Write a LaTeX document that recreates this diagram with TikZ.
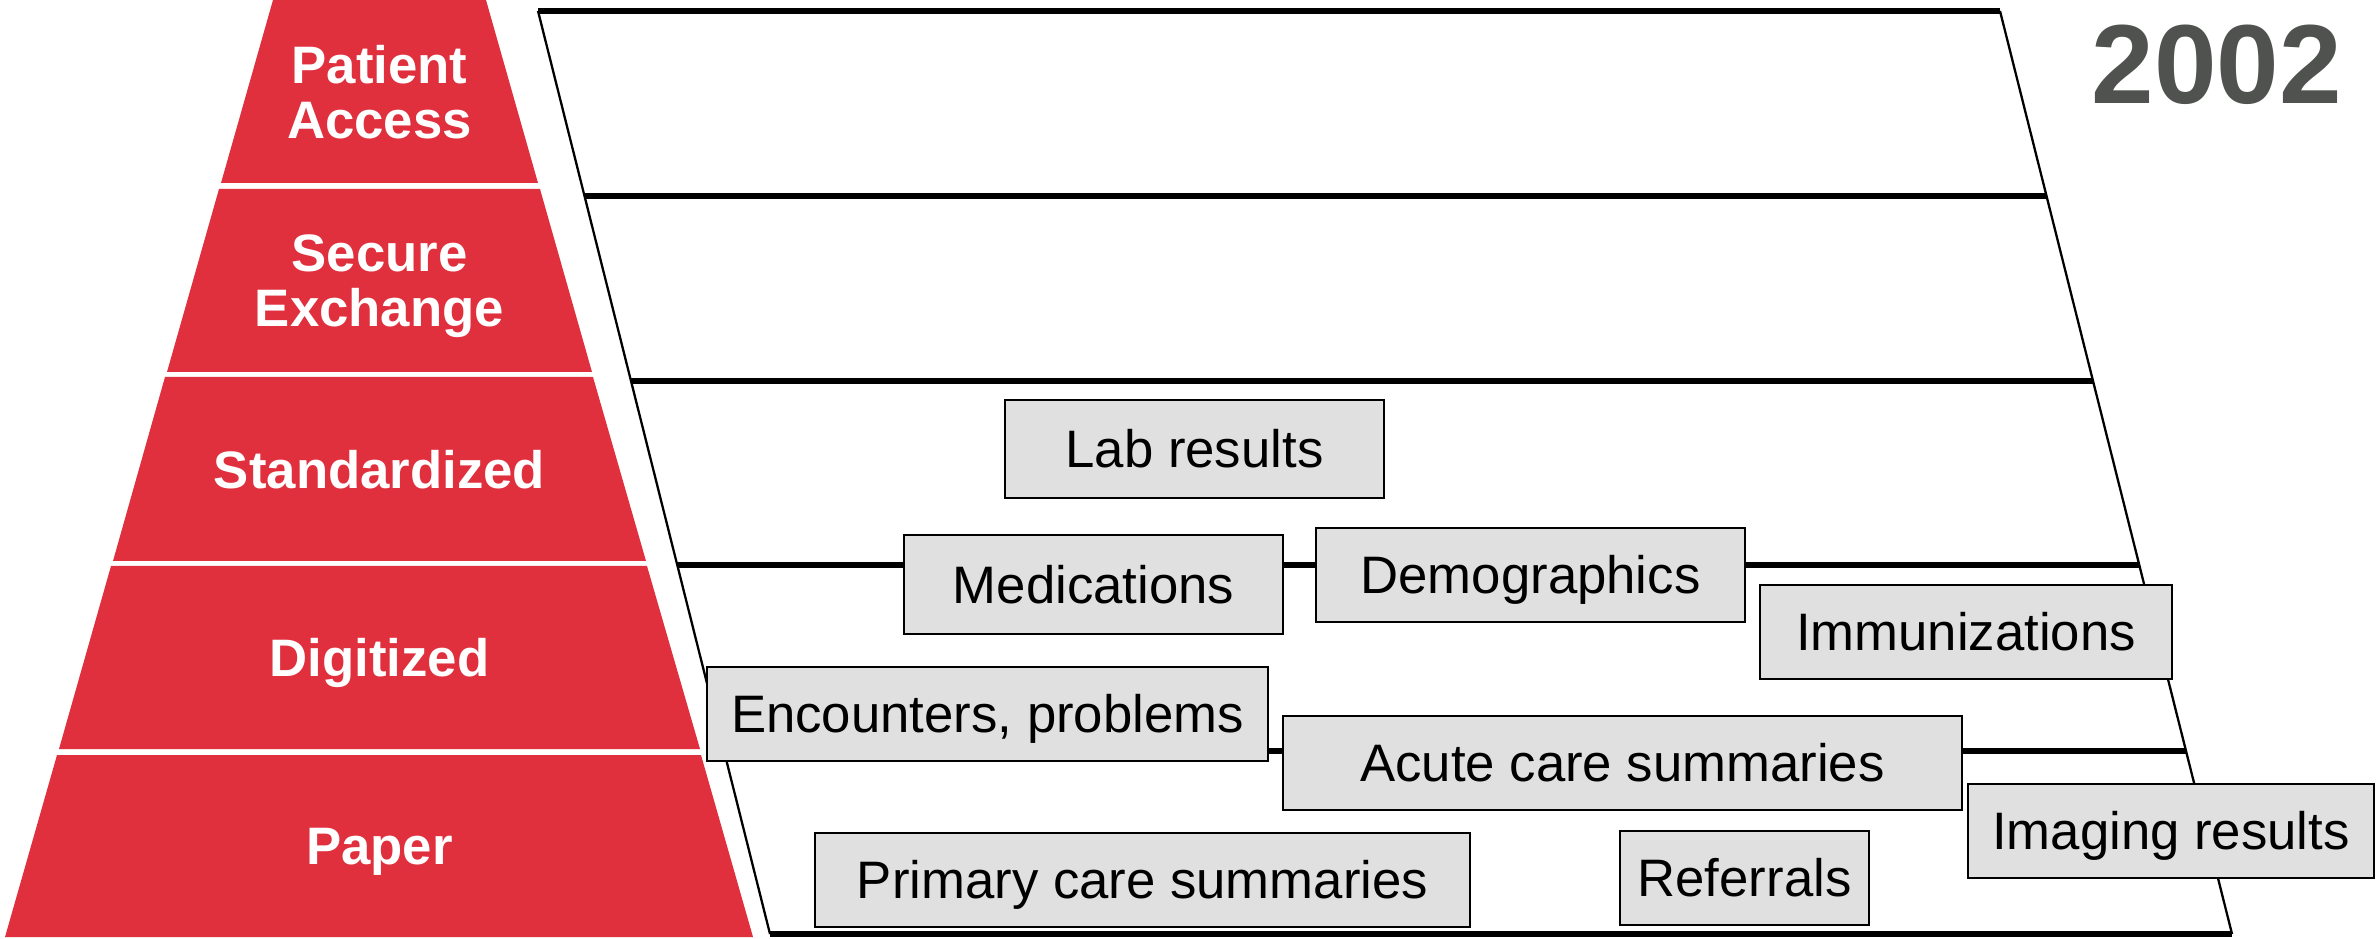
\documentclass[tikz,border=0pt]{standalone}
\usepackage{fontspec}
\setmainfont{Liberation Sans}
\usepackage{tikz}
\definecolor{pyrred}{RGB}{224,47,61}
\definecolor{boxgray}{RGB}{224,224,224}
\definecolor{yeargray}{RGB}{80,82,80}

\begin{document}
\begin{tikzpicture}[
  level/.style={text=white, font=\fontsize{15}{15.6}\selectfont\bfseries, align=center, inner sep=0pt, text depth=0pt},
  item/.style={draw, fill=boxgray, line width=0.8pt, inner sep=0pt, minimum height=0.94cm, text height=10.8pt, text depth=0pt, font=\fontsize{15}{18}\selectfont},
  band/.style={line width=1.5pt},
  side/.style={line width=0.65pt}
]
\useasboundingbox (0,0) rectangle (23.76,9.38);

% Pyramid of levels
\fill[pyrred] (2.73,9.38) -- (4.86,9.38) -- (5.38,7.55) -- (2.21,7.55) -- cycle;
\fill[pyrred] (2.19,7.49) -- (5.40,7.49) -- (5.92,5.66) -- (1.67,5.66) -- cycle;
\fill[pyrred] (1.65,5.61) -- (5.93,5.61) -- (6.46,3.77) -- (1.13,3.77) -- cycle;
\fill[pyrred] (1.11,3.72) -- (6.47,3.72) -- (7.00,1.89) -- (0.59,1.89) -- cycle;
\fill[pyrred] (0.57,1.83) -- (7.01,1.83) -- (7.53,0.01) -- (0.05,0.01) -- cycle;

\node[level] (access) at (3.795,8.465) {Patient\\Access};
\node[level] (exchange) at (3.795,6.575) {Secure\\Exchange};
\node[level] (standard) at (3.795,4.69) {Standardized};
\node[level] (digital) at (3.795,2.805) {Digitized};
\node[level] (paper) at (3.795,0.92) {Paper};

% Frame of the year
\draw[side] (5.38,9.27) -- (7.70,0.04);
\draw[side] (20.00,9.27) -- (22.32,0.04);
\draw[band] (5.38,9.27) -- (20.00,9.27);
\draw[band] (5.845,7.42) -- (20.465,7.42);
\draw[band] (6.309,5.57) -- (20.929,5.57);
\draw[band] (6.771,3.73) -- (21.391,3.73);
\draw[band] (7.238,1.87) -- (21.858,1.87);
\draw[band] (7.70,0.04) -- (22.32,0.04);

\node[font=\fontsize{32}{32}\selectfont\bfseries, text=yeargray, inner sep=0pt, text depth=0pt] (year) at (22.17,8.735) {2002};

% Record types
\node[item, minimum width=3.79cm, minimum height=0.98cm] (lab) at (11.945,4.89) {Lab results};
\node[item, minimum width=3.79cm, minimum height=0.99cm] (meds) at (10.935,3.535) {Medications};
\node[item, minimum width=4.29cm] (demo) at (15.305,3.63) {Demographics};
\node[item, minimum width=4.12cm] (immun) at (19.66,3.06) {Immunizations};
\node[item, minimum width=5.61cm] (enc) at (9.875,2.24) {Encounters, problems};
\node[item, minimum width=6.79cm] (acute) at (16.225,1.75) {Acute care summaries};
\node[item, minimum width=4.06cm] (imaging) at (21.71,1.07) {Imaging results};
\node[item, minimum width=6.55cm] (primary) at (11.425,0.58) {Primary care summaries};
\node[item, minimum width=2.49cm] (referrals) at (17.445,0.60) {Referrals};
\end{tikzpicture}
\end{document}
